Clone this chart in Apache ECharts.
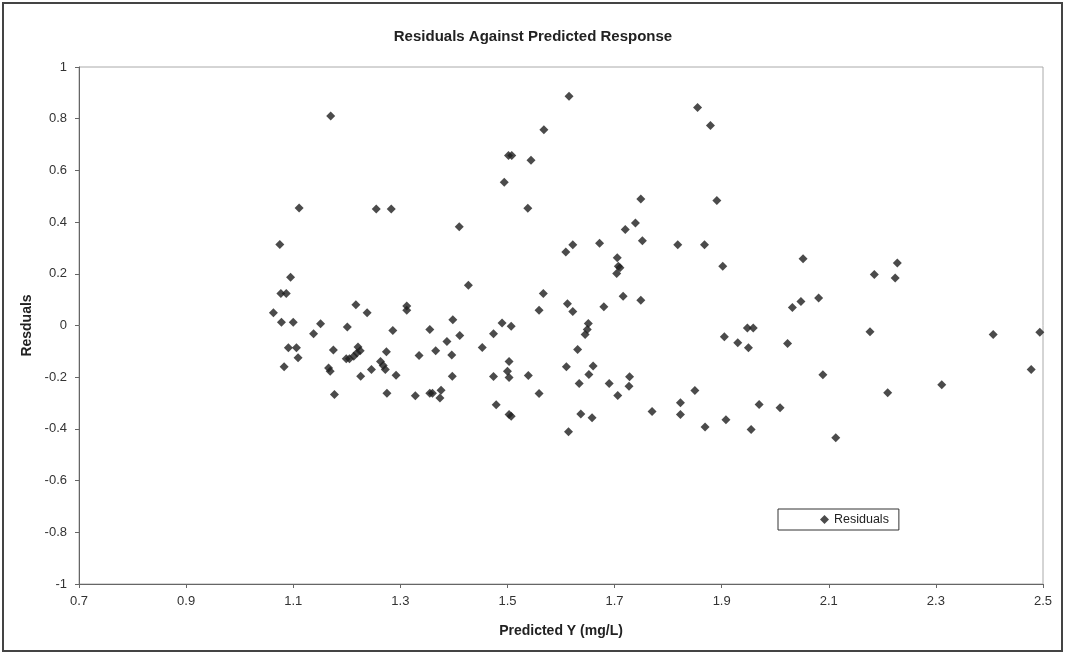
<!DOCTYPE html>
<html>
<head>
<meta charset="utf-8">
<title>Residuals Against Predicted Response</title>
<script src="https://cdn.jsdelivr.net/npm/echarts@6/dist/echarts.min.js"></script>
<style>
  html, body { margin: 0; padding: 0; background: #fff; }
  #chart { width: 1066px; height: 655px; }
</style>
</head>
<body>
<div id="chart"></div>
<script>
// predicted response (x) and residual (y)
const predictedY = [
  1.502, 1.508, 1.494, 1.111, 1.255, 1.283, 1.410, 1.075, 1.095, 1.427,
  1.077, 1.087, 1.063, 1.217, 1.238, 1.312, 1.312, 1.078, 1.100, 1.151,
  1.138, 1.201, 1.398, 1.355, 1.286, 1.490, 1.507, 1.474, 1.411, 1.387,
  1.091, 1.106, 1.109, 1.175, 1.221, 1.225, 1.219, 1.213, 1.205, 1.199,
  1.274, 1.366, 1.335, 1.396, 1.453, 1.503, 1.263, 1.268, 1.272, 1.246,
  1.166, 1.169, 1.083, 1.226, 1.292, 1.397, 1.474, 1.500, 1.503, 1.177,
  1.275, 1.328, 1.355, 1.360, 1.376, 1.374, 1.479, 1.170,
  1.615, 1.568, 1.544, 1.538, 1.855, 1.879, 1.749, 1.891, 1.739, 1.720,
  1.752, 1.672, 1.622, 1.609, 1.818, 1.868, 1.902,
  1.705, 1.707, 1.710, 1.704, 1.567, 1.559, 1.612, 1.622, 1.680, 1.716,
  1.749, 1.651, 1.649, 1.645, 1.631, 1.539, 1.610, 1.660, 1.652, 1.634,
  1.690, 1.728, 1.727, 1.559, 1.706, 1.850, 1.503, 1.507, 1.637, 1.658,
  1.614, 1.770, 1.823, 1.823, 1.869, 1.908, 1.955, 1.905, 1.948, 1.959,
  1.930, 1.950,
  2.052, 2.228, 2.185, 2.224, 2.081, 2.048, 2.032, 2.023, 2.177, 2.407,
  2.494, 2.089, 2.478, 2.311, 2.210, 1.970, 2.009, 2.113
]
const residuals = [
  0.658, 0.658, 0.554, 0.455, 0.451, 0.451, 0.382, 0.313, 0.187, 0.156,
  0.124, 0.124, 0.049, 0.080, 0.049, 0.075, 0.059, 0.013, 0.013, 0.007,
  -0.032, -0.006, 0.022, -0.015, -0.019, 0.010, -0.003, -0.032, -0.039, -0.062,
  -0.086, -0.086, -0.125, -0.095, -0.083, -0.098, -0.106, -0.119, -0.129, -0.129,
  -0.102, -0.098, -0.116, -0.114, -0.085, -0.139, -0.139, -0.155, -0.170, -0.170,
  -0.164, -0.177, -0.160, -0.196, -0.192, -0.196, -0.197, -0.177, -0.201, -0.267,
  -0.262, -0.272, -0.262, -0.262, -0.250, -0.280, -0.307, 0.810,
  0.887, 0.757, 0.639, 0.454, 0.843, 0.774, 0.489, 0.484, 0.397, 0.371,
  0.328, 0.318, 0.312, 0.284, 0.312, 0.312, 0.229,
  0.262, 0.229, 0.223, 0.201, 0.124, 0.059, 0.084, 0.054, 0.073, 0.113,
  0.098, 0.008, -0.015, -0.035, -0.093, -0.193, -0.160, -0.157, -0.190, -0.224,
  -0.224, -0.198, -0.235, -0.263, -0.271, -0.251, -0.344, -0.351, -0.342, -0.357,
  -0.411, -0.333, -0.299, -0.344, -0.393, -0.365, -0.402, -0.044, -0.010, -0.010,
  -0.067, -0.086,
  0.258, 0.242, 0.197, 0.184, 0.106, 0.093, 0.070, -0.070, -0.024, -0.035,
  -0.026, -0.191, -0.170, -0.229, -0.260, -0.306, -0.318, -0.434
]
const xTicks = [0.7, 0.9, 1.1, 1.3, 1.5, 1.7, 1.9, 2.1, 2.3, 2.5]

const font = 'Arial, "Liberation Sans", sans-serif'
const chart = echarts.init(document.getElementById('chart'))

chart.setOption({
  animation: false,
  backgroundColor: '#fff',
  textStyle: { fontFamily: font },
  title: {
    text: 'Residuals Against Predicted Response',
    left: 'center',
    top: 24,
    textStyle: { fontSize: 15, fontWeight: 'bold', color: '#222', fontFamily: font }
  },
  legend: {
    data: ['Residuals'],
    left: 778,
    top: 509,
    icon: 'diamond',
    itemWidth: 9,
    itemHeight: 9,
    padding: [4, 10, 4, 42],
    borderColor: '#333',
    borderWidth: 1,
    textStyle: { fontSize: 12.5, color: '#222', fontFamily: font }
  },
  grid: {
    left: 79,
    top: 67,
    right: 23,
    bottom: 71,
    show: true,
    borderColor: '#aaa',
    borderWidth: 1
  },
  xAxis: {
    type: 'value',
    min: 0.7,
    max: 2.5,
    name: 'Predicted Y (mg/L)',
    nameLocation: 'middle',
    nameGap: 40,
    nameTextStyle: { fontSize: 14, fontWeight: 'bold', color: '#222', fontFamily: font },
    axisLine: { show: true, onZero: false, lineStyle: { color: '#666' } },
    axisTick: { show: true, length: 4, customValues: xTicks, lineStyle: { color: '#666' } },
    axisLabel: {
      customValues: xTicks,
      formatter: v => v.toFixed(1),
      margin: 11,
      fontSize: 13,
      color: '#333',
      fontFamily: font
    },
    splitLine: { show: false }
  },
  yAxis: {
    type: 'value',
    min: -1,
    max: 1,
    interval: 0.2,
    name: 'Resduals',
    nameLocation: 'middle',
    nameGap: 42,
    nameTextStyle: { fontSize: 14, fontWeight: 'bold', color: '#222', fontFamily: font },
    axisLine: { show: true, onZero: false, lineStyle: { color: '#666' } },
    axisTick: { show: true, length: 4, lineStyle: { color: '#666' } },
    axisLabel: { margin: 12, fontSize: 13, color: '#333', fontFamily: font },
    splitLine: { show: false }
  },
  graphic: [
    {
      type: 'rect',
      silent: true,
      shape: { x: 3, y: 3, width: 1059, height: 648 },
      style: { fill: null, stroke: '#444', lineWidth: 2 }
    }
  ],
  series: [
    {
      name: 'Residuals',
      type: 'scatter',
      symbol: 'diamond',
      symbolSize: 9,
      itemStyle: { color: '#1e1e1e' },
      data: predictedY.map((x, i) => [x, residuals[i]])
    }
  ]
})
</script>
</body>
</html>
